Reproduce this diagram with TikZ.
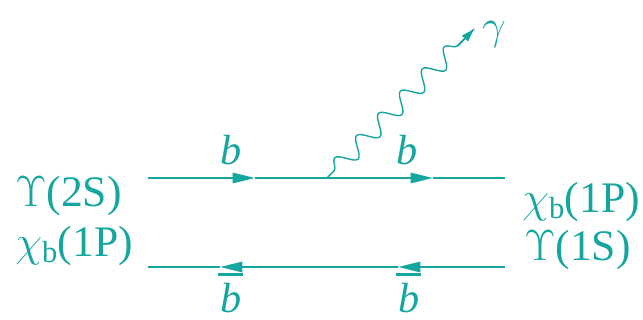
\RequirePackage{fix-cm}
\documentclass[tikz,border=0pt]{standalone}
\usepackage{fontspec}
\setmainfont{Liberation Serif}
\usetikzlibrary{arrows.meta,decorations.pathmorphing}
\definecolor{teal1}{RGB}{22,166,160}
\tikzset{
  fline/.style={draw=teal1,line width=1.3pt},
  farrow/.style={fline,-{Triangle[length=0.56cm,width=0.26cm]}},
  photon/.style={draw=teal1,line width=1pt,
    decorate,decoration={snake,segment length=0.78cm,amplitude=0.22cm,pre length=0.25cm,post length=0.5cm}},
  phead/.style={draw=teal1,line width=1pt,-{Triangle[length=0.33cm,width=0.2cm]}},
  lab/.style={text=teal1,font=\fontsize{31}{36}\selectfont,inner sep=0pt},
  qlab/.style={text=teal1,font=\fontsize{30}{36}\selectfont,inner sep=0pt},
}
\newcommand{\bbar}{\rlap{\hspace{-0.06em}\raisebox{0.85em}{\rule{0.6em}{2pt}}}\textit{b}}
\begin{document}
\begin{tikzpicture}[x=0.025cm,y=-0.025cm]
\useasboundingbox (0,0) rectangle (643,320);
% top fermion line
\coordinate (t0) at (148,178);
\coordinate (t1) at (255,178);
\coordinate (v)  at (327,178);
\coordinate (t2) at (433,178);
\coordinate (t3) at (505,178);
% bottom fermion line
\coordinate (b0) at (505,267);
\coordinate (b1) at (398,267);
\coordinate (b2) at (220,267);
\coordinate (b3) at (148,267);
% photon
\coordinate (pw) at (458,46);
\coordinate (ph) at (474,29);
\draw[farrow] (t0) -- (t1);
\draw[farrow] (t1) -- (t2);
\draw[fline] (t2) -- (t3);
\draw[farrow] (b0) -- (b1);
\draw[farrow] (b1) -- (b2);
\draw[fline] (b2) -- (b3);
\draw[photon] (v) -- (ph);
\draw[phead] (pw) -- (ph);
% labels
\node[lab,anchor=base west] (l1) at (15,207) {$\Upsilon$(2S)};
\node[lab,anchor=base west] (l2) at (15,256) {$\chi_{\mathrm{b}}$(1P)};
\node[lab,anchor=base west] (r1) at (522,212) {$\chi_{\mathrm{b}}$(1P)};
\node[lab,anchor=base west] (r2) at (524,260) {$\Upsilon$(1S)};
\node[qlab,anchor=base] (bt1) at (231,165) {\textit{b}};
\node[qlab,anchor=base] (bt2) at (407,165) {\textit{b}};
\node[qlab,anchor=base] (bb1) at (231,312) {\bbar};
\node[qlab,anchor=base] (bb2) at (409,312) {\bbar};
\node[qlab,anchor=base] (g) at (494,40) {$\gamma$};
\end{tikzpicture}
\end{document}
